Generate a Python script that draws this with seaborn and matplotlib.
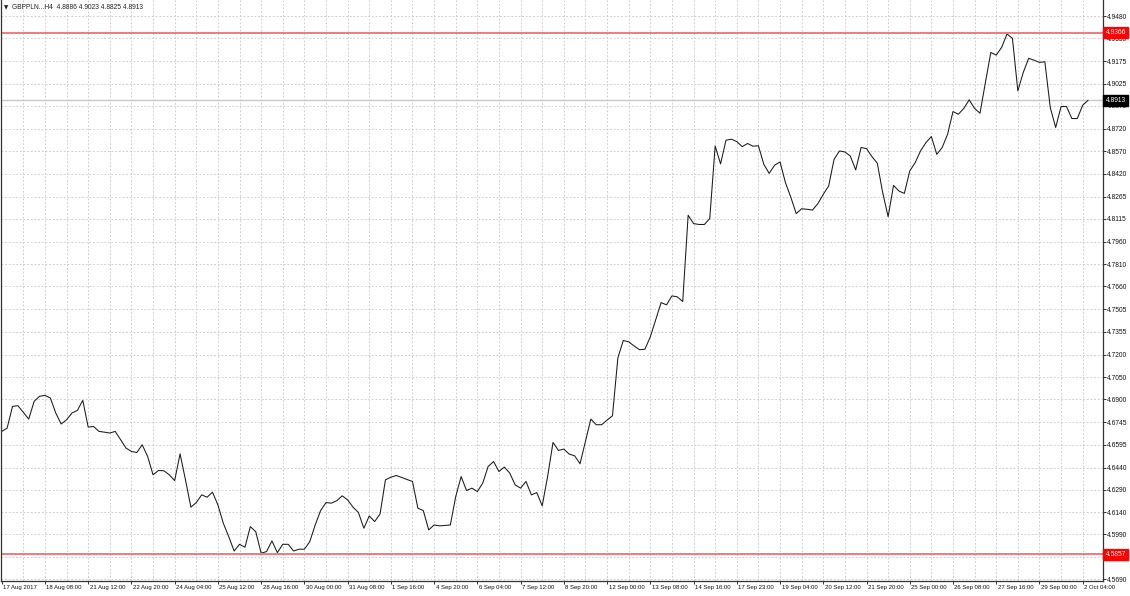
import numpy as np
import pandas as pd
import matplotlib
matplotlib.use("Agg")
import matplotlib.pyplot as plt
import matplotlib.transforms as mtransforms
import seaborn as sns

# ---------------- data ----------------
close = [
    4.6684, 4.6706, 4.6852, 4.6857, 4.6812, 4.6767, 4.6886, 4.6920, 4.6927, 4.6909,
    4.6808, 4.6734, 4.6762, 4.6808, 4.6825, 4.6893, 4.6713, 4.6717, 4.6684, 4.6679,
    4.6673, 4.6684, 4.6628, 4.6572, 4.6549, 4.6542, 4.6594, 4.6515, 4.6392, 4.6421,
    4.6419, 4.6392, 4.6353, 4.6533, 4.6358, 4.6174, 4.6205, 4.6257, 4.6241, 4.6275,
    4.6189, 4.6066, 4.5976, 4.5879, 4.5924, 4.5904, 4.6043, 4.6009, 4.5864, 4.5875,
    4.5947, 4.5868, 4.5924, 4.5924, 4.5879, 4.5891, 4.5891, 4.5942, 4.6054, 4.6151,
    4.6205, 4.6201, 4.6218, 4.6250, 4.6223, 4.6174, 4.6138, 4.6032, 4.6115, 4.6077,
    4.6128, 4.6358, 4.6376, 4.6387, 4.6374, 4.6360, 4.6347, 4.6167, 4.6151, 4.6021,
    4.6054, 4.6048, 4.6051, 4.6054, 4.6245, 4.6380, 4.6286, 4.6302, 4.6279, 4.6336,
    4.6448, 4.6481, 4.6414, 4.6444, 4.6403, 4.6324, 4.6302, 4.6347, 4.6257, 4.6272,
    4.6183, 4.6380, 4.6610, 4.6556, 4.6565, 4.6531, 4.6520, 4.6466, 4.6615, 4.6767,
    4.6729, 4.6729, 4.6760, 4.6789, 4.7179, 4.7296, 4.7287, 4.7259, 4.7234, 4.7237,
    4.7320, 4.7436, 4.7551, 4.7536, 4.7596, 4.7590, 4.7558, 4.8139, 4.8083, 4.8077,
    4.8077, 4.8117, 4.8605, 4.8485, 4.8644, 4.8651, 4.8635, 4.8601, 4.8622, 4.8604,
    4.8607, 4.8482, 4.8421, 4.8476, 4.8498, 4.8359, 4.8260, 4.8150, 4.8183, 4.8179,
    4.8174, 4.8217, 4.8280, 4.8336, 4.8516, 4.8572, 4.8565, 4.8538, 4.8444, 4.8595,
    4.8588, 4.8534, 4.8489, 4.8291, 4.8129, 4.8340, 4.8302, 4.8286, 4.8437, 4.8493,
    4.8572, 4.8628, 4.8669, 4.8549, 4.8595, 4.8684, 4.8837, 4.8819, 4.8858, 4.8916,
    4.8858, 4.8826, 4.9033, 4.9235, 4.9217, 4.9269, 4.9359, 4.9330, 4.8976, 4.9100,
    4.9195, 4.9183, 4.9168, 4.9172, 4.8864, 4.8730, 4.8871, 4.8871, 4.8790, 4.8790,
    4.8880, 4.8913,
]
bar_index = list(range(len(close)))

x_tick_labels = [
    "17 Aug 2017", "18 Aug 08:00", "21 Aug 12:00", "22 Aug 20:00", "24 Aug 04:00",
    "25 Aug 12:00", "28 Aug 16:00", "30 Aug 00:00", "31 Aug 08:00", "1 Sep 16:00",
    "4 Sep 20:00", "6 Sep 04:00", "7 Sep 12:00", "8 Sep 20:00", "12 Sep 00:00",
    "13 Sep 08:00", "14 Sep 16:00", "17 Sep 23:00", "19 Sep 04:00", "20 Sep 12:00",
    "21 Sep 20:00", "25 Sep 00:00", "26 Sep 08:00", "27 Sep 16:00", "29 Sep 00:00",
    "2 Oct 04:00",
]
x_tick_bars = [8 * k for k in range(len(x_tick_labels))]

y_tick_values = [
    4.9480, 4.9330, 4.9175, 4.9025, 4.8875, 4.8720, 4.8570, 4.8420, 4.8265, 4.8115,
    4.7960, 4.7810, 4.7660, 4.7505, 4.7355, 4.7200, 4.7050, 4.6900, 4.6745, 4.6595,
    4.6440, 4.6290, 4.6140, 4.5990, 4.5840, 4.5690,
]
# the 4.5840 label is hidden behind the 4.5857 price box in the original
y_tick_labels = ["" if abs(v - 4.5840) < 1e-9 else f"{v:.4f}" for v in y_tick_values]

high_level = 4.9366
low_level = 4.5857
last_price = 4.8913
title_text = "GBPPLN...H4  4.8886 4.9023 4.8825 4.8913"

# ---------------- figure ----------------
sns.set_style("white")
plt.rcParams["font.family"] = ["Liberation Sans", "DejaVu Sans"]

W, H = 1130, 596
fig = plt.figure(figsize=(W / 100, H / 100), dpi=100)
ax_left, ax_right, ax_top, ax_bottom = 1.0, 1102.7, 0.0, 580.7
ax = fig.add_axes([ax_left / W, 1 - ax_bottom / H, (ax_right - ax_left) / W, (ax_bottom - ax_top) / H])

df = pd.DataFrame({"bar": bar_index, "close": close})
sns.lineplot(data=df, x="bar", y="close", ax=ax, color="#1a1a1a", linewidth=0.75)

ax.set_xlim(-0.13, 203.7)
ax.set_ylim(4.5679, 4.9588)

# grid
grid_kw = dict(color="#c8c8c8", linewidth=0.6, linestyle=(0, (2.2, 2.2)), zorder=0)
for v in y_tick_values:
    ax.axhline(v, **grid_kw)
for b in range(4, 204, 4):
    ax.axvline(b, **grid_kw)

# special lines
ax.axhline(last_price, color="#c8c8c8", linewidth=1.0, zorder=1)
ax.axhline(high_level, color="#f07070", linewidth=1.3, zorder=2)
ax.axhline(low_level, color="#f07070", linewidth=1.3, zorder=2)

# spines
for s in ["left", "bottom", "right"]:
    ax.spines[s].set_visible(True)
    ax.spines[s].set_color("#333333")
    ax.spines[s].set_linewidth(0.9)
ax.spines["top"].set_visible(False)

# y axis on right
ax.yaxis.tick_right()
ax.set_yticks(y_tick_values)
ax.set_yticklabels(y_tick_labels)
ax.tick_params(axis="y", which="both", right=True, left=False, length=2.2, width=0.7,
               color="#333333", pad=0.8, labelsize=4.8, labelcolor="#111111")

# x axis
ax.set_xticks(x_tick_bars)
ax.set_xticklabels(x_tick_labels)
ax.tick_params(axis="x", which="both", bottom=True, length=2.2, width=0.7,
               color="#333333", pad=0.6, labelsize=4.3, labelcolor="#111111")
offset = mtransforms.ScaledTranslation(0.015, 0, fig.dpi_scale_trans)
for lbl in ax.get_xticklabels():
    lbl.set_horizontalalignment("left")
    lbl.set_transform(lbl.get_transform() + offset)

ax.set_xlabel("")
ax.set_ylabel("")

# price boxes on the right axis
trans = mtransforms.blended_transform_factory(ax.transAxes, ax.transData)
for val, fc in [(high_level, "#ff0000"), (low_level, "#ff0000"), (last_price, "#000000")]:
    ax.text(1.0025, val, f"{val:.4f}", transform=trans, ha="left", va="center",
            fontsize=4.8, color="white", zorder=10, clip_on=False,
            bbox=dict(boxstyle="square,pad=0.3", facecolor=fc, edgecolor=fc))

# title
fig.text(3.5 / W, 1 - 7.5 / H, "▼", fontsize=4.0, color="#222222", va="center", ha="left",
         family=["DejaVu Sans"])
fig.text(12 / W, 1 - 7.5 / H, title_text, fontsize=4.8, color="#222222", va="center", ha="left")

fig.savefig("out.png", dpi=100, facecolor="white")
